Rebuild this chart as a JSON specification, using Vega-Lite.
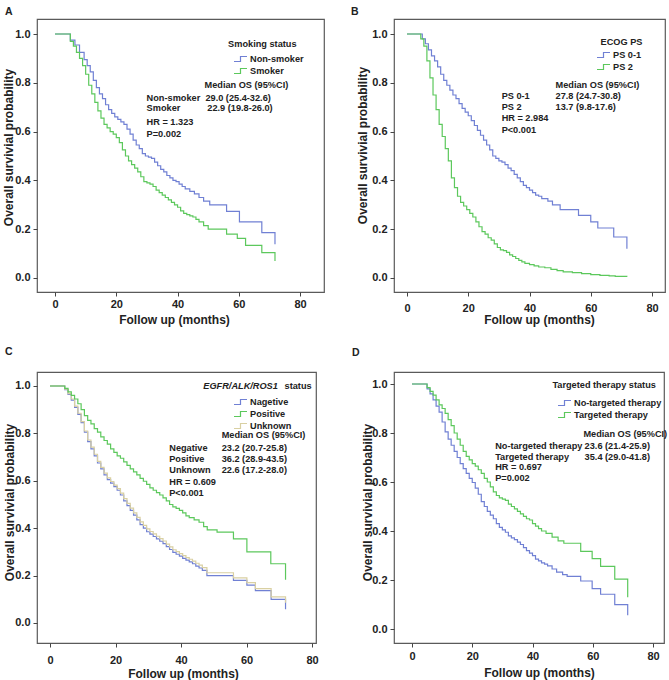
{
  "$schema": "https://vega.github.io/schema/vega-lite/v6.json",
  "padding": {"left": 1, "top": 5, "right": 2, "bottom": 2},
  "background": "white",
  "config": {
    "font": "Liberation Sans",
    "view": {"stroke": "#5a5a5a", "strokeWidth": 1.2},
    "axis": {"domain": false, "grid": false, "labelFont": "Liberation Sans", "labelFontWeight": "bold", "labelFontSize": 11, "labelColor": "#222", "titleFont": "Liberation Sans", "titleFontSize": 12, "titleFontWeight": "bold", "titleColor": "#222", "tickColor": "#444", "tickSize": 4, "labelPadding": 3},
    "legend": {"orient": "none", "labelFont": "Liberation Sans", "labelFontWeight": "bold", "labelFontSize": 9.2, "labelColor": "#222", "symbolType": "M-1.3,0.5H0V-0.5H1.3", "symbolSize": 100, "symbolStrokeWidth": 1.2, "symbolFillColor": "transparent", "labelOffset": 3.5, "rowPadding": 0, "padding": 0, "labelLimit": 200},
    "title": {"anchor": "start", "frame": "group", "fontSize": 10.5, "fontWeight": "bold", "font": "Liberation Sans", "color": "#222", "baseline": "alphabetic"},
    "text": {"font": "Liberation Sans", "fontWeight": "bold", "fontSize": 9.2, "color": "#222", "align": "left", "baseline": "middle"},
    "line": {"strokeWidth": 1.2, "interpolate": "step-after"}
  },
  "datasets": {
    "a": [
      {"group": "Non-smoker", "t": 0, "s": 1}, {"group": "Non-smoker", "t": 3.5, "s": 1}, {"group": "Non-smoker", "t": 5, "s": 0.975}, {"group": "Non-smoker", "t": 6.5, "s": 0.955}, {"group": "Non-smoker", "t": 8, "s": 0.925}, {"group": "Non-smoker", "t": 9.5, "s": 0.895}, {"group": "Non-smoker", "t": 10.5, "s": 0.87}, {"group": "Non-smoker", "t": 11.5, "s": 0.845}, {"group": "Non-smoker", "t": 12.5, "s": 0.81}, {"group": "Non-smoker", "t": 13.5, "s": 0.78}, {"group": "Non-smoker", "t": 14.5, "s": 0.755}, {"group": "Non-smoker", "t": 15.5, "s": 0.735}, {"group": "Non-smoker", "t": 16.5, "s": 0.71}, {"group": "Non-smoker", "t": 17.5, "s": 0.69}, {"group": "Non-smoker", "t": 18.5, "s": 0.675}, {"group": "Non-smoker", "t": 19.5, "s": 0.66}, {"group": "Non-smoker", "t": 20.5, "s": 0.65}, {"group": "Non-smoker", "t": 21.5, "s": 0.64}, {"group": "Non-smoker", "t": 22.5, "s": 0.63}, {"group": "Non-smoker", "t": 23.5, "s": 0.61}, {"group": "Non-smoker", "t": 24.5, "s": 0.59}, {"group": "Non-smoker", "t": 25.5, "s": 0.565}, {"group": "Non-smoker", "t": 26.5, "s": 0.545}, {"group": "Non-smoker", "t": 27.5, "s": 0.53}, {"group": "Non-smoker", "t": 28.5, "s": 0.51}, {"group": "Non-smoker", "t": 29.5, "s": 0.5}, {"group": "Non-smoker", "t": 30.5, "s": 0.495}, {"group": "Non-smoker", "t": 31.5, "s": 0.49}, {"group": "Non-smoker", "t": 32.5, "s": 0.475}, {"group": "Non-smoker", "t": 33.5, "s": 0.46}, {"group": "Non-smoker", "t": 34.5, "s": 0.445}, {"group": "Non-smoker", "t": 35.5, "s": 0.435}, {"group": "Non-smoker", "t": 36.5, "s": 0.42}, {"group": "Non-smoker", "t": 37.5, "s": 0.41}, {"group": "Non-smoker", "t": 38.5, "s": 0.4}, {"group": "Non-smoker", "t": 39.5, "s": 0.395}, {"group": "Non-smoker", "t": 40.5, "s": 0.385}, {"group": "Non-smoker", "t": 41.5, "s": 0.375}, {"group": "Non-smoker", "t": 42.5, "s": 0.365}, {"group": "Non-smoker", "t": 44, "s": 0.355}, {"group": "Non-smoker", "t": 45.5, "s": 0.345}, {"group": "Non-smoker", "t": 47, "s": 0.33}, {"group": "Non-smoker", "t": 48.5, "s": 0.315}, {"group": "Non-smoker", "t": 50.5, "s": 0.3}, {"group": "Non-smoker", "t": 56, "s": 0.273}, {"group": "Non-smoker", "t": 60.2, "s": 0.23}, {"group": "Non-smoker", "t": 67.5, "s": 0.186}, {"group": "Non-smoker", "t": 71.7, "s": 0.186}, {"group": "Non-smoker", "t": 71.8, "s": 0.138},
      {"group": "Smoker", "t": 0, "s": 1}, {"group": "Smoker", "t": 3.5, "s": 1}, {"group": "Smoker", "t": 5, "s": 0.97}, {"group": "Smoker", "t": 6, "s": 0.95}, {"group": "Smoker", "t": 7, "s": 0.925}, {"group": "Smoker", "t": 8, "s": 0.9}, {"group": "Smoker", "t": 9, "s": 0.87}, {"group": "Smoker", "t": 10, "s": 0.835}, {"group": "Smoker", "t": 11, "s": 0.79}, {"group": "Smoker", "t": 12, "s": 0.755}, {"group": "Smoker", "t": 13, "s": 0.72}, {"group": "Smoker", "t": 14, "s": 0.685}, {"group": "Smoker", "t": 15, "s": 0.655}, {"group": "Smoker", "t": 16, "s": 0.63}, {"group": "Smoker", "t": 17, "s": 0.615}, {"group": "Smoker", "t": 18, "s": 0.6}, {"group": "Smoker", "t": 19, "s": 0.59}, {"group": "Smoker", "t": 20, "s": 0.575}, {"group": "Smoker", "t": 21, "s": 0.555}, {"group": "Smoker", "t": 22, "s": 0.525}, {"group": "Smoker", "t": 23, "s": 0.5}, {"group": "Smoker", "t": 24, "s": 0.48}, {"group": "Smoker", "t": 25, "s": 0.465}, {"group": "Smoker", "t": 26, "s": 0.45}, {"group": "Smoker", "t": 27, "s": 0.435}, {"group": "Smoker", "t": 28, "s": 0.415}, {"group": "Smoker", "t": 29, "s": 0.395}, {"group": "Smoker", "t": 30, "s": 0.39}, {"group": "Smoker", "t": 31, "s": 0.385}, {"group": "Smoker", "t": 32, "s": 0.375}, {"group": "Smoker", "t": 33, "s": 0.36}, {"group": "Smoker", "t": 34, "s": 0.35}, {"group": "Smoker", "t": 35, "s": 0.34}, {"group": "Smoker", "t": 36, "s": 0.33}, {"group": "Smoker", "t": 37, "s": 0.32}, {"group": "Smoker", "t": 38, "s": 0.31}, {"group": "Smoker", "t": 39, "s": 0.3}, {"group": "Smoker", "t": 40, "s": 0.29}, {"group": "Smoker", "t": 41, "s": 0.275}, {"group": "Smoker", "t": 42, "s": 0.265}, {"group": "Smoker", "t": 43, "s": 0.26}, {"group": "Smoker", "t": 44, "s": 0.255}, {"group": "Smoker", "t": 45, "s": 0.25}, {"group": "Smoker", "t": 46, "s": 0.24}, {"group": "Smoker", "t": 47, "s": 0.23}, {"group": "Smoker", "t": 48.5, "s": 0.215}, {"group": "Smoker", "t": 50, "s": 0.2}, {"group": "Smoker", "t": 56, "s": 0.18}, {"group": "Smoker", "t": 59.5, "s": 0.162}, {"group": "Smoker", "t": 62.2, "s": 0.134}, {"group": "Smoker", "t": 67.5, "s": 0.104}, {"group": "Smoker", "t": 71.7, "s": 0.104}, {"group": "Smoker", "t": 71.8, "s": 0.07}
    ],
    "b": [
      {"group": "PS 0-1", "t": 0, "s": 1}, {"group": "PS 0-1", "t": 3.8, "s": 1}, {"group": "PS 0-1", "t": 5, "s": 0.98}, {"group": "PS 0-1", "t": 6, "s": 0.96}, {"group": "PS 0-1", "t": 7, "s": 0.935}, {"group": "PS 0-1", "t": 8, "s": 0.91}, {"group": "PS 0-1", "t": 9, "s": 0.89}, {"group": "PS 0-1", "t": 10, "s": 0.865}, {"group": "PS 0-1", "t": 11, "s": 0.835}, {"group": "PS 0-1", "t": 12, "s": 0.81}, {"group": "PS 0-1", "t": 13, "s": 0.79}, {"group": "PS 0-1", "t": 14, "s": 0.77}, {"group": "PS 0-1", "t": 15, "s": 0.75}, {"group": "PS 0-1", "t": 16, "s": 0.735}, {"group": "PS 0-1", "t": 17, "s": 0.715}, {"group": "PS 0-1", "t": 18, "s": 0.695}, {"group": "PS 0-1", "t": 19, "s": 0.68}, {"group": "PS 0-1", "t": 20, "s": 0.665}, {"group": "PS 0-1", "t": 21, "s": 0.645}, {"group": "PS 0-1", "t": 22, "s": 0.625}, {"group": "PS 0-1", "t": 23, "s": 0.605}, {"group": "PS 0-1", "t": 24, "s": 0.585}, {"group": "PS 0-1", "t": 25, "s": 0.565}, {"group": "PS 0-1", "t": 26, "s": 0.545}, {"group": "PS 0-1", "t": 27, "s": 0.525}, {"group": "PS 0-1", "t": 28, "s": 0.5}, {"group": "PS 0-1", "t": 29, "s": 0.49}, {"group": "PS 0-1", "t": 30, "s": 0.48}, {"group": "PS 0-1", "t": 31, "s": 0.475}, {"group": "PS 0-1", "t": 32, "s": 0.465}, {"group": "PS 0-1", "t": 33, "s": 0.45}, {"group": "PS 0-1", "t": 34, "s": 0.44}, {"group": "PS 0-1", "t": 35, "s": 0.425}, {"group": "PS 0-1", "t": 36, "s": 0.41}, {"group": "PS 0-1", "t": 37, "s": 0.395}, {"group": "PS 0-1", "t": 38, "s": 0.38}, {"group": "PS 0-1", "t": 39, "s": 0.37}, {"group": "PS 0-1", "t": 40, "s": 0.36}, {"group": "PS 0-1", "t": 41, "s": 0.35}, {"group": "PS 0-1", "t": 42, "s": 0.34}, {"group": "PS 0-1", "t": 43, "s": 0.335}, {"group": "PS 0-1", "t": 44, "s": 0.325}, {"group": "PS 0-1", "t": 46, "s": 0.315}, {"group": "PS 0-1", "t": 47.5, "s": 0.3}, {"group": "PS 0-1", "t": 50, "s": 0.28}, {"group": "PS 0-1", "t": 56, "s": 0.257}, {"group": "PS 0-1", "t": 60, "s": 0.23}, {"group": "PS 0-1", "t": 62.3, "s": 0.205}, {"group": "PS 0-1", "t": 67.5, "s": 0.168}, {"group": "PS 0-1", "t": 71.7, "s": 0.168}, {"group": "PS 0-1", "t": 71.8, "s": 0.12},
      {"group": "PS 2", "t": 0, "s": 1}, {"group": "PS 2", "t": 3.8, "s": 1}, {"group": "PS 2", "t": 4.5, "s": 0.98}, {"group": "PS 2", "t": 5.5, "s": 0.95}, {"group": "PS 2", "t": 6.5, "s": 0.89}, {"group": "PS 2", "t": 7.5, "s": 0.82}, {"group": "PS 2", "t": 8.5, "s": 0.75}, {"group": "PS 2", "t": 9.5, "s": 0.69}, {"group": "PS 2", "t": 10.5, "s": 0.63}, {"group": "PS 2", "t": 11.5, "s": 0.58}, {"group": "PS 2", "t": 12.5, "s": 0.53}, {"group": "PS 2", "t": 13.5, "s": 0.48}, {"group": "PS 2", "t": 14.5, "s": 0.41}, {"group": "PS 2", "t": 15.5, "s": 0.37}, {"group": "PS 2", "t": 16.5, "s": 0.335}, {"group": "PS 2", "t": 17.5, "s": 0.31}, {"group": "PS 2", "t": 18.5, "s": 0.295}, {"group": "PS 2", "t": 19.5, "s": 0.28}, {"group": "PS 2", "t": 20.5, "s": 0.265}, {"group": "PS 2", "t": 21.5, "s": 0.25}, {"group": "PS 2", "t": 22.5, "s": 0.23}, {"group": "PS 2", "t": 23.5, "s": 0.21}, {"group": "PS 2", "t": 24.5, "s": 0.19}, {"group": "PS 2", "t": 25.5, "s": 0.18}, {"group": "PS 2", "t": 26.5, "s": 0.165}, {"group": "PS 2", "t": 27.5, "s": 0.155}, {"group": "PS 2", "t": 28.5, "s": 0.14}, {"group": "PS 2", "t": 29.5, "s": 0.125}, {"group": "PS 2", "t": 30.5, "s": 0.115}, {"group": "PS 2", "t": 31.5, "s": 0.112}, {"group": "PS 2", "t": 32.5, "s": 0.105}, {"group": "PS 2", "t": 33.5, "s": 0.095}, {"group": "PS 2", "t": 34.5, "s": 0.088}, {"group": "PS 2", "t": 35.5, "s": 0.08}, {"group": "PS 2", "t": 36.5, "s": 0.072}, {"group": "PS 2", "t": 37.5, "s": 0.066}, {"group": "PS 2", "t": 38.5, "s": 0.06}, {"group": "PS 2", "t": 40, "s": 0.055}, {"group": "PS 2", "t": 41.5, "s": 0.05}, {"group": "PS 2", "t": 43, "s": 0.045}, {"group": "PS 2", "t": 45, "s": 0.042}, {"group": "PS 2", "t": 47, "s": 0.035}, {"group": "PS 2", "t": 49, "s": 0.03}, {"group": "PS 2", "t": 51, "s": 0.025}, {"group": "PS 2", "t": 54, "s": 0.022}, {"group": "PS 2", "t": 57, "s": 0.018}, {"group": "PS 2", "t": 60, "s": 0.014}, {"group": "PS 2", "t": 63, "s": 0.011}, {"group": "PS 2", "t": 66, "s": 0.009}, {"group": "PS 2", "t": 68, "s": 0.007}, {"group": "PS 2", "t": 71.8, "s": 0.005}
    ],
    "c": [
      {"group": "Nagetive", "t": 0, "s": 1}, {"group": "Nagetive", "t": 3.5, "s": 1}, {"group": "Nagetive", "t": 4.5, "s": 0.985}, {"group": "Nagetive", "t": 5.5, "s": 0.965}, {"group": "Nagetive", "t": 6.5, "s": 0.94}, {"group": "Nagetive", "t": 7.5, "s": 0.91}, {"group": "Nagetive", "t": 8.5, "s": 0.88}, {"group": "Nagetive", "t": 9.5, "s": 0.845}, {"group": "Nagetive", "t": 10.5, "s": 0.805}, {"group": "Nagetive", "t": 11.5, "s": 0.765}, {"group": "Nagetive", "t": 12.5, "s": 0.735}, {"group": "Nagetive", "t": 13.5, "s": 0.705}, {"group": "Nagetive", "t": 14.5, "s": 0.675}, {"group": "Nagetive", "t": 15.5, "s": 0.65}, {"group": "Nagetive", "t": 16.5, "s": 0.625}, {"group": "Nagetive", "t": 17.5, "s": 0.605}, {"group": "Nagetive", "t": 18.5, "s": 0.59}, {"group": "Nagetive", "t": 19.5, "s": 0.575}, {"group": "Nagetive", "t": 20.5, "s": 0.56}, {"group": "Nagetive", "t": 21.5, "s": 0.54}, {"group": "Nagetive", "t": 22.5, "s": 0.515}, {"group": "Nagetive", "t": 23.5, "s": 0.495}, {"group": "Nagetive", "t": 24.5, "s": 0.475}, {"group": "Nagetive", "t": 25.5, "s": 0.455}, {"group": "Nagetive", "t": 26.5, "s": 0.435}, {"group": "Nagetive", "t": 27.5, "s": 0.415}, {"group": "Nagetive", "t": 28.5, "s": 0.4}, {"group": "Nagetive", "t": 29.5, "s": 0.385}, {"group": "Nagetive", "t": 30.5, "s": 0.375}, {"group": "Nagetive", "t": 31.5, "s": 0.365}, {"group": "Nagetive", "t": 32.5, "s": 0.355}, {"group": "Nagetive", "t": 33.5, "s": 0.345}, {"group": "Nagetive", "t": 34.5, "s": 0.335}, {"group": "Nagetive", "t": 35.5, "s": 0.322}, {"group": "Nagetive", "t": 36.5, "s": 0.31}, {"group": "Nagetive", "t": 37.5, "s": 0.298}, {"group": "Nagetive", "t": 38.5, "s": 0.29}, {"group": "Nagetive", "t": 39.5, "s": 0.282}, {"group": "Nagetive", "t": 40.5, "s": 0.273}, {"group": "Nagetive", "t": 41.5, "s": 0.265}, {"group": "Nagetive", "t": 42.5, "s": 0.258}, {"group": "Nagetive", "t": 43.5, "s": 0.25}, {"group": "Nagetive", "t": 44.5, "s": 0.24}, {"group": "Nagetive", "t": 45.5, "s": 0.232}, {"group": "Nagetive", "t": 46.5, "s": 0.222}, {"group": "Nagetive", "t": 47.9, "s": 0.2}, {"group": "Nagetive", "t": 56, "s": 0.18}, {"group": "Nagetive", "t": 60.1, "s": 0.16}, {"group": "Nagetive", "t": 62.7, "s": 0.137}, {"group": "Nagetive", "t": 67.5, "s": 0.1}, {"group": "Nagetive", "t": 71.8, "s": 0.1}, {"group": "Nagetive", "t": 71.9, "s": 0.058},
      {"group": "Unknown", "t": 0, "s": 1}, {"group": "Unknown", "t": 3.5, "s": 1}, {"group": "Unknown", "t": 4.5, "s": 0.987}, {"group": "Unknown", "t": 5.5, "s": 0.968}, {"group": "Unknown", "t": 6.5, "s": 0.945}, {"group": "Unknown", "t": 7.5, "s": 0.915}, {"group": "Unknown", "t": 8.5, "s": 0.885}, {"group": "Unknown", "t": 9.5, "s": 0.85}, {"group": "Unknown", "t": 10.5, "s": 0.81}, {"group": "Unknown", "t": 11.5, "s": 0.772}, {"group": "Unknown", "t": 12.5, "s": 0.742}, {"group": "Unknown", "t": 13.5, "s": 0.712}, {"group": "Unknown", "t": 14.5, "s": 0.682}, {"group": "Unknown", "t": 15.5, "s": 0.657}, {"group": "Unknown", "t": 16.5, "s": 0.632}, {"group": "Unknown", "t": 17.5, "s": 0.612}, {"group": "Unknown", "t": 18.5, "s": 0.597}, {"group": "Unknown", "t": 19.5, "s": 0.582}, {"group": "Unknown", "t": 20.5, "s": 0.567}, {"group": "Unknown", "t": 21.5, "s": 0.548}, {"group": "Unknown", "t": 22.5, "s": 0.525}, {"group": "Unknown", "t": 23.5, "s": 0.505}, {"group": "Unknown", "t": 24.5, "s": 0.485}, {"group": "Unknown", "t": 25.5, "s": 0.465}, {"group": "Unknown", "t": 26.5, "s": 0.446}, {"group": "Unknown", "t": 27.5, "s": 0.427}, {"group": "Unknown", "t": 28.5, "s": 0.412}, {"group": "Unknown", "t": 29.5, "s": 0.397}, {"group": "Unknown", "t": 30.5, "s": 0.386}, {"group": "Unknown", "t": 31.5, "s": 0.376}, {"group": "Unknown", "t": 32.5, "s": 0.366}, {"group": "Unknown", "t": 33.5, "s": 0.356}, {"group": "Unknown", "t": 34.5, "s": 0.346}, {"group": "Unknown", "t": 35.5, "s": 0.333}, {"group": "Unknown", "t": 36.5, "s": 0.321}, {"group": "Unknown", "t": 37.5, "s": 0.309}, {"group": "Unknown", "t": 38.5, "s": 0.301}, {"group": "Unknown", "t": 39.5, "s": 0.293}, {"group": "Unknown", "t": 40.5, "s": 0.284}, {"group": "Unknown", "t": 41.5, "s": 0.276}, {"group": "Unknown", "t": 42.5, "s": 0.269}, {"group": "Unknown", "t": 43.5, "s": 0.261}, {"group": "Unknown", "t": 44.5, "s": 0.252}, {"group": "Unknown", "t": 45.5, "s": 0.244}, {"group": "Unknown", "t": 46.5, "s": 0.234}, {"group": "Unknown", "t": 47.9, "s": 0.212}, {"group": "Unknown", "t": 56, "s": 0.19}, {"group": "Unknown", "t": 60.1, "s": 0.17}, {"group": "Unknown", "t": 62.7, "s": 0.145}, {"group": "Unknown", "t": 67.5, "s": 0.11}, {"group": "Unknown", "t": 71.8, "s": 0.11}, {"group": "Unknown", "t": 71.9, "s": 0.085},
      {"group": "Positive", "t": 0, "s": 1}, {"group": "Positive", "t": 3.5, "s": 1}, {"group": "Positive", "t": 4.5, "s": 0.99}, {"group": "Positive", "t": 5.5, "s": 0.975}, {"group": "Positive", "t": 6.5, "s": 0.96}, {"group": "Positive", "t": 7.5, "s": 0.945}, {"group": "Positive", "t": 8.5, "s": 0.925}, {"group": "Positive", "t": 9.5, "s": 0.9}, {"group": "Positive", "t": 10.5, "s": 0.875}, {"group": "Positive", "t": 11.5, "s": 0.855}, {"group": "Positive", "t": 12.5, "s": 0.84}, {"group": "Positive", "t": 13.5, "s": 0.82}, {"group": "Positive", "t": 14.5, "s": 0.805}, {"group": "Positive", "t": 15.5, "s": 0.785}, {"group": "Positive", "t": 16.5, "s": 0.77}, {"group": "Positive", "t": 17.5, "s": 0.755}, {"group": "Positive", "t": 18.5, "s": 0.735}, {"group": "Positive", "t": 19.5, "s": 0.72}, {"group": "Positive", "t": 20.5, "s": 0.705}, {"group": "Positive", "t": 21.5, "s": 0.695}, {"group": "Positive", "t": 22.5, "s": 0.68}, {"group": "Positive", "t": 23.5, "s": 0.665}, {"group": "Positive", "t": 24.5, "s": 0.65}, {"group": "Positive", "t": 25.5, "s": 0.638}, {"group": "Positive", "t": 26.5, "s": 0.625}, {"group": "Positive", "t": 27.5, "s": 0.61}, {"group": "Positive", "t": 28.5, "s": 0.598}, {"group": "Positive", "t": 29.5, "s": 0.585}, {"group": "Positive", "t": 30.5, "s": 0.57}, {"group": "Positive", "t": 31.5, "s": 0.56}, {"group": "Positive", "t": 32.5, "s": 0.55}, {"group": "Positive", "t": 33.5, "s": 0.54}, {"group": "Positive", "t": 34.5, "s": 0.528}, {"group": "Positive", "t": 35.5, "s": 0.515}, {"group": "Positive", "t": 36.5, "s": 0.5}, {"group": "Positive", "t": 37.5, "s": 0.49}, {"group": "Positive", "t": 38.5, "s": 0.484}, {"group": "Positive", "t": 39.5, "s": 0.475}, {"group": "Positive", "t": 40.5, "s": 0.465}, {"group": "Positive", "t": 41.5, "s": 0.452}, {"group": "Positive", "t": 42.5, "s": 0.445}, {"group": "Positive", "t": 44, "s": 0.435}, {"group": "Positive", "t": 45.5, "s": 0.425}, {"group": "Positive", "t": 46.9, "s": 0.407}, {"group": "Positive", "t": 48, "s": 0.393}, {"group": "Positive", "t": 51, "s": 0.383}, {"group": "Positive", "t": 56, "s": 0.355}, {"group": "Positive", "t": 60.1, "s": 0.3}, {"group": "Positive", "t": 67.4, "s": 0.25}, {"group": "Positive", "t": 71.8, "s": 0.25}, {"group": "Positive", "t": 71.9, "s": 0.182}
    ],
    "d": [
      {"group": "No-targeted therapy", "t": 0, "s": 1}, {"group": "No-targeted therapy", "t": 3.9, "s": 1}, {"group": "No-targeted therapy", "t": 5, "s": 0.98}, {"group": "No-targeted therapy", "t": 6, "s": 0.96}, {"group": "No-targeted therapy", "t": 7, "s": 0.935}, {"group": "No-targeted therapy", "t": 8, "s": 0.91}, {"group": "No-targeted therapy", "t": 9, "s": 0.885}, {"group": "No-targeted therapy", "t": 10, "s": 0.845}, {"group": "No-targeted therapy", "t": 11, "s": 0.805}, {"group": "No-targeted therapy", "t": 12, "s": 0.775}, {"group": "No-targeted therapy", "t": 13, "s": 0.75}, {"group": "No-targeted therapy", "t": 14, "s": 0.725}, {"group": "No-targeted therapy", "t": 15, "s": 0.7}, {"group": "No-targeted therapy", "t": 16, "s": 0.675}, {"group": "No-targeted therapy", "t": 17, "s": 0.655}, {"group": "No-targeted therapy", "t": 18, "s": 0.635}, {"group": "No-targeted therapy", "t": 19, "s": 0.615}, {"group": "No-targeted therapy", "t": 20, "s": 0.598}, {"group": "No-targeted therapy", "t": 21, "s": 0.575}, {"group": "No-targeted therapy", "t": 22, "s": 0.55}, {"group": "No-targeted therapy", "t": 23, "s": 0.52}, {"group": "No-targeted therapy", "t": 24, "s": 0.5}, {"group": "No-targeted therapy", "t": 25, "s": 0.48}, {"group": "No-targeted therapy", "t": 26, "s": 0.465}, {"group": "No-targeted therapy", "t": 27, "s": 0.45}, {"group": "No-targeted therapy", "t": 28, "s": 0.43}, {"group": "No-targeted therapy", "t": 29, "s": 0.415}, {"group": "No-targeted therapy", "t": 30, "s": 0.405}, {"group": "No-targeted therapy", "t": 31, "s": 0.395}, {"group": "No-targeted therapy", "t": 32, "s": 0.38}, {"group": "No-targeted therapy", "t": 33, "s": 0.372}, {"group": "No-targeted therapy", "t": 34, "s": 0.365}, {"group": "No-targeted therapy", "t": 35, "s": 0.355}, {"group": "No-targeted therapy", "t": 36, "s": 0.345}, {"group": "No-targeted therapy", "t": 37, "s": 0.332}, {"group": "No-targeted therapy", "t": 38, "s": 0.32}, {"group": "No-targeted therapy", "t": 39, "s": 0.31}, {"group": "No-targeted therapy", "t": 40, "s": 0.3}, {"group": "No-targeted therapy", "t": 41, "s": 0.285}, {"group": "No-targeted therapy", "t": 42, "s": 0.278}, {"group": "No-targeted therapy", "t": 43, "s": 0.27}, {"group": "No-targeted therapy", "t": 44, "s": 0.265}, {"group": "No-targeted therapy", "t": 45, "s": 0.258}, {"group": "No-targeted therapy", "t": 46.5, "s": 0.245}, {"group": "No-targeted therapy", "t": 48, "s": 0.232}, {"group": "No-targeted therapy", "t": 50, "s": 0.222}, {"group": "No-targeted therapy", "t": 51.5, "s": 0.215}, {"group": "No-targeted therapy", "t": 56, "s": 0.196}, {"group": "No-targeted therapy", "t": 59.8, "s": 0.165}, {"group": "No-targeted therapy", "t": 62.6, "s": 0.142}, {"group": "No-targeted therapy", "t": 67.3, "s": 0.1}, {"group": "No-targeted therapy", "t": 71.5, "s": 0.1}, {"group": "No-targeted therapy", "t": 71.6, "s": 0.056},
      {"group": "Targeted therapy", "t": 0, "s": 1}, {"group": "Targeted therapy", "t": 3.9, "s": 1}, {"group": "Targeted therapy", "t": 5, "s": 0.985}, {"group": "Targeted therapy", "t": 6, "s": 0.97}, {"group": "Targeted therapy", "t": 7, "s": 0.955}, {"group": "Targeted therapy", "t": 8, "s": 0.935}, {"group": "Targeted therapy", "t": 9, "s": 0.915}, {"group": "Targeted therapy", "t": 10, "s": 0.9}, {"group": "Targeted therapy", "t": 11, "s": 0.88}, {"group": "Targeted therapy", "t": 12, "s": 0.855}, {"group": "Targeted therapy", "t": 13, "s": 0.83}, {"group": "Targeted therapy", "t": 14, "s": 0.8}, {"group": "Targeted therapy", "t": 15, "s": 0.775}, {"group": "Targeted therapy", "t": 16, "s": 0.75}, {"group": "Targeted therapy", "t": 17, "s": 0.725}, {"group": "Targeted therapy", "t": 18, "s": 0.705}, {"group": "Targeted therapy", "t": 19, "s": 0.69}, {"group": "Targeted therapy", "t": 20, "s": 0.675}, {"group": "Targeted therapy", "t": 21, "s": 0.665}, {"group": "Targeted therapy", "t": 22, "s": 0.65}, {"group": "Targeted therapy", "t": 23, "s": 0.635}, {"group": "Targeted therapy", "t": 24, "s": 0.615}, {"group": "Targeted therapy", "t": 25, "s": 0.6}, {"group": "Targeted therapy", "t": 26, "s": 0.58}, {"group": "Targeted therapy", "t": 27, "s": 0.56}, {"group": "Targeted therapy", "t": 28, "s": 0.545}, {"group": "Targeted therapy", "t": 29, "s": 0.535}, {"group": "Targeted therapy", "t": 30, "s": 0.53}, {"group": "Targeted therapy", "t": 31, "s": 0.525}, {"group": "Targeted therapy", "t": 32, "s": 0.51}, {"group": "Targeted therapy", "t": 33, "s": 0.5}, {"group": "Targeted therapy", "t": 34, "s": 0.49}, {"group": "Targeted therapy", "t": 35, "s": 0.48}, {"group": "Targeted therapy", "t": 36, "s": 0.47}, {"group": "Targeted therapy", "t": 37, "s": 0.46}, {"group": "Targeted therapy", "t": 38, "s": 0.45}, {"group": "Targeted therapy", "t": 39, "s": 0.445}, {"group": "Targeted therapy", "t": 40, "s": 0.43}, {"group": "Targeted therapy", "t": 41, "s": 0.42}, {"group": "Targeted therapy", "t": 42, "s": 0.41}, {"group": "Targeted therapy", "t": 43, "s": 0.4}, {"group": "Targeted therapy", "t": 44.5, "s": 0.39}, {"group": "Targeted therapy", "t": 46.5, "s": 0.375}, {"group": "Targeted therapy", "t": 48.5, "s": 0.36}, {"group": "Targeted therapy", "t": 50.4, "s": 0.35}, {"group": "Targeted therapy", "t": 56, "s": 0.317}, {"group": "Targeted therapy", "t": 59.8, "s": 0.287}, {"group": "Targeted therapy", "t": 62.6, "s": 0.256}, {"group": "Targeted therapy", "t": 67.3, "s": 0.204}, {"group": "Targeted therapy", "t": 71.5, "s": 0.204}, {"group": "Targeted therapy", "t": 71.6, "s": 0.13}
    ]
  },
  "columns": 2,
  "bounds": "flush",
  "align": "all",
  "spacing": {"row": 80, "column": 70},
  "resolve": {"scale": {"x": "independent", "y": "independent", "color": "independent"}, "legend": {"color": "independent"}, "axis": {"x": "independent", "y": "independent"}},
  "concat": [
    {
      "width": 287, "height": 273,
      "title": {"text": "A", "dx": -32, "offset": 2},
      "layer": [
        {"data": {"name": "a"}, "mark": {"type": "line"}, "encoding": {
          "x": {"field": "t", "type": "quantitative", "scale": {"domain": [-5.88, 87.8], "nice": false, "zero": false}, "axis": {"values": [0, 20, 40, 60, 80], "title": "Follow up (months)", "labelPadding": 2, "titleX": 137, "titleY": 27, "titleBaseline": "middle", "titleAlign": "center"}},
          "y": {"field": "s", "type": "quantitative", "scale": {"domain": [-0.0574, 1.0615], "nice": false, "zero": false}, "axis": {"values": [0, 0.2, 0.4, 0.6, 0.8, 1], "format": ".1f", "title": "Overall survivial probability", "titleX": -29, "titleY": 128, "titleBaseline": "middle", "titleAlign": "center"}},
          "color": {"field": "group", "type": "nominal", "scale": {"domain": ["Non-smoker", "Smoker"], "range": ["#7080d4", "#5cc85c"]}, "legend": {"title": null, "legendX": 197.5, "legendY": 34}}
        }},
        {"data": {"values": [{}]}, "mark": {"type": "text"}, "encoding": {"x": {"datum": 56.5}, "y": {"datum": 0.959}, "text": {"value": "Smoking status"}}},
        {"data": {"values": [{}]}, "mark": {"type": "text"}, "encoding": {"x": {"datum": 48.8}, "y": {"datum": 0.791}, "text": {"value": "Median OS (95%CI)"}}},
        {"data": {"values": [{}]}, "mark": {"type": "text"}, "encoding": {"x": {"datum": 29.9}, "y": {"datum": 0.738}, "text": {"value": "Non-smoker"}}},
        {"data": {"values": [{}]}, "mark": {"type": "text"}, "encoding": {"x": {"datum": 49.1}, "y": {"datum": 0.738}, "text": {"value": "29.0 (25.4-32.6)"}}},
        {"data": {"values": [{}]}, "mark": {"type": "text"}, "encoding": {"x": {"datum": 29.9}, "y": {"datum": 0.695}, "text": {"value": "Smoker"}}},
        {"data": {"values": [{}]}, "mark": {"type": "text"}, "encoding": {"x": {"datum": 49.7}, "y": {"datum": 0.695}, "text": {"value": "22.9 (19.8-26.0)"}}},
        {"data": {"values": [{}]}, "mark": {"type": "text"}, "encoding": {"x": {"datum": 29.9}, "y": {"datum": 0.639}, "text": {"value": "HR = 1.323"}}},
        {"data": {"values": [{}]}, "mark": {"type": "text"}, "encoding": {"x": {"datum": 29.9}, "y": {"datum": 0.59}, "text": {"value": "P=0.002"}}}
      ]
    },
    {
      "width": 271, "height": 273,
      "title": {"text": "B", "dx": -43, "offset": 2},
      "layer": [
        {"data": {"name": "b"}, "mark": {"type": "line"}, "encoding": {
          "x": {"field": "t", "type": "quantitative", "scale": {"domain": [-4.24, 84.24], "nice": false, "zero": false}, "axis": {"values": [0, 20, 40, 60, 80], "title": "Follow up (months)", "labelPadding": 6, "titleX": 145, "titleY": 27, "titleBaseline": "middle", "titleAlign": "center"}},
          "y": {"field": "s", "type": "quantitative", "scale": {"domain": [-0.0574, 1.0615], "nice": false, "zero": false}, "axis": {"values": [0, 0.2, 0.4, 0.6, 0.8, 1], "format": ".1f", "title": "Overall survivial probability", "titleX": -32, "titleY": 126, "titleBaseline": "middle", "titleAlign": "center"}},
          "color": {"field": "group", "type": "nominal", "scale": {"domain": ["PS 0-1", "PS 2"], "range": ["#7080d4", "#5cc85c"]}, "legend": {"title": null, "legendX": 203.5, "legendY": 30}}
        }},
        {"data": {"values": [{}]}, "mark": {"type": "text"}, "encoding": {"x": {"datum": 63.2}, "y": {"datum": 0.966}, "text": {"value": "ECOG PS"}}},
        {"data": {"values": [{}]}, "mark": {"type": "text"}, "encoding": {"x": {"datum": 48.5}, "y": {"datum": 0.791}, "text": {"value": "Median OS (95%CI)"}}},
        {"data": {"values": [{}]}, "mark": {"type": "text"}, "encoding": {"x": {"datum": 30.9}, "y": {"datum": 0.746}, "text": {"value": "PS 0-1"}}},
        {"data": {"values": [{}]}, "mark": {"type": "text"}, "encoding": {"x": {"datum": 48.5}, "y": {"datum": 0.746}, "text": {"value": "27.8 (24.7-30.8)"}}},
        {"data": {"values": [{}]}, "mark": {"type": "text"}, "encoding": {"x": {"datum": 30.9}, "y": {"datum": 0.7}, "text": {"value": "PS 2"}}},
        {"data": {"values": [{}]}, "mark": {"type": "text"}, "encoding": {"x": {"datum": 48.5}, "y": {"datum": 0.7}, "text": {"value": "13.7 (9.8-17.6)"}}},
        {"data": {"values": [{}]}, "mark": {"type": "text"}, "encoding": {"x": {"datum": 30.9}, "y": {"datum": 0.654}, "text": {"value": "HR = 2.984"}}},
        {"data": {"values": [{}]}, "mark": {"type": "text"}, "encoding": {"x": {"datum": 30.9}, "y": {"datum": 0.608}, "text": {"value": "P<0.001"}}}
      ]
    },
    {
      "width": 279, "height": 271,
      "title": {"text": "C", "dx": -32, "offset": 15},
      "layer": [
        {"data": {"name": "c"}, "mark": {"type": "line"}, "encoding": {
          "x": {"field": "t", "type": "quantitative", "scale": {"domain": [-3.97, 81.2], "nice": false, "zero": false}, "axis": {"values": [0, 20, 40, 60, 80], "title": "Follow up (months)", "labelPadding": 7, "titleX": 146, "titleY": 30, "titleBaseline": "middle", "titleAlign": "center"}},
          "y": {"field": "s", "type": "quantitative", "scale": {"domain": [-0.0844, 1.059], "nice": false, "zero": false}, "axis": {"values": [0, 0.2, 0.4, 0.6, 0.8, 1], "format": ".1f", "title": "Overall survivial probability", "titleX": -28, "titleY": 130, "titleBaseline": "middle", "titleAlign": "center"}},
          "color": {"field": "group", "type": "nominal", "scale": {"domain": ["Nagetive", "Positive", "Unknown"], "range": ["#7080d4", "#5cc85c", "#d9d0a2"]}, "legend": {"title": null, "legendX": 197.5, "legendY": 24}}
        }},
        {"data": {"values": [{}]}, "mark": {"type": "text", "fontStyle": "italic"}, "encoding": {"x": {"datum": 46.8}, "y": {"datum": 1.001}, "text": {"value": "EGFR/ALK/ROS1"}}},
        {"data": {"values": [{}]}, "mark": {"type": "text"}, "encoding": {"x": {"datum": 71.6}, "y": {"datum": 1.001}, "text": {"value": "status"}}},
        {"data": {"values": [{}]}, "mark": {"type": "text"}, "encoding": {"x": {"datum": 52.4}, "y": {"datum": 0.793}, "text": {"value": "Median OS (95%CI)"}}},
        {"data": {"values": [{}]}, "mark": {"type": "text"}, "encoding": {"x": {"datum": 36.4}, "y": {"datum": 0.737}, "text": {"value": "Negative"}}},
        {"data": {"values": [{}]}, "mark": {"type": "text"}, "encoding": {"x": {"datum": 52.4}, "y": {"datum": 0.737}, "text": {"value": "23.2 (20.7-25.8)"}}},
        {"data": {"values": [{}]}, "mark": {"type": "text"}, "encoding": {"x": {"datum": 36.4}, "y": {"datum": 0.692}, "text": {"value": "Positive"}}},
        {"data": {"values": [{}]}, "mark": {"type": "text"}, "encoding": {"x": {"datum": 52.4}, "y": {"datum": 0.692}, "text": {"value": "36.2 (28.9-43.5)"}}},
        {"data": {"values": [{}]}, "mark": {"type": "text"}, "encoding": {"x": {"datum": 36.4}, "y": {"datum": 0.647}, "text": {"value": "Unknown"}}},
        {"data": {"values": [{}]}, "mark": {"type": "text"}, "encoding": {"x": {"datum": 52.4}, "y": {"datum": 0.647}, "text": {"value": "22.6 (17.2-28.0)"}}},
        {"data": {"values": [{}]}, "mark": {"type": "text"}, "encoding": {"x": {"datum": 36.4}, "y": {"datum": 0.594}, "text": {"value": "HR = 0.609"}}},
        {"data": {"values": [{}]}, "mark": {"type": "text"}, "encoding": {"x": {"datum": 36.4}, "y": {"datum": 0.547}, "text": {"value": "P<0.001"}}}
      ]
    },
    {
      "width": 270, "height": 271,
      "title": {"text": "D", "dx": -42, "offset": 14},
      "layer": [
        {"data": {"name": "d"}, "mark": {"type": "line"}, "encoding": {
          "x": {"field": "t", "type": "quantitative", "scale": {"domain": [-5.975, 83.65], "nice": false, "zero": false}, "axis": {"values": [0, 20, 40, 60, 80], "title": "Follow up (months)", "labelPadding": 3, "titleX": 145, "titleY": 29, "titleBaseline": "middle", "titleAlign": "center"}},
          "y": {"field": "s", "type": "quantitative", "scale": {"domain": [-0.057, 1.049], "nice": false, "zero": false}, "axis": {"values": [0, 0.2, 0.4, 0.6, 0.8, 1], "format": ".1f", "title": "Overall survivial probability", "titleX": -27, "titleY": 130, "titleBaseline": "middle", "titleAlign": "center"}},
          "color": {"field": "group", "type": "nominal", "scale": {"domain": ["No-targeted therapy", "Targeted therapy"], "range": ["#7080d4", "#5cc85c"]}, "legend": {"title": null, "legendX": 164.5, "legendY": 25}}
        }},
        {"data": {"values": [{}]}, "mark": {"type": "text"}, "encoding": {"x": {"datum": 46.6}, "y": {"datum": 0.996}, "text": {"value": "Targeted therapy status"}}},
        {"data": {"values": [{}]}, "mark": {"type": "text"}, "encoding": {"x": {"datum": 56.9}, "y": {"datum": 0.796}, "text": {"value": "Median OS (95%CI)"}}},
        {"data": {"values": [{}]}, "mark": {"type": "text"}, "encoding": {"x": {"datum": 27.6}, "y": {"datum": 0.747}, "text": {"value": "No-targeted therapy"}}},
        {"data": {"values": [{}]}, "mark": {"type": "text"}, "encoding": {"x": {"datum": 57.3}, "y": {"datum": 0.747}, "text": {"value": "23.6 (21.4-25.9)"}}},
        {"data": {"values": [{}]}, "mark": {"type": "text"}, "encoding": {"x": {"datum": 27.6}, "y": {"datum": 0.703}, "text": {"value": "Targeted therapy"}}},
        {"data": {"values": [{}]}, "mark": {"type": "text"}, "encoding": {"x": {"datum": 57.3}, "y": {"datum": 0.703}, "text": {"value": "35.4 (29.0-41.8)"}}},
        {"data": {"values": [{}]}, "mark": {"type": "text"}, "encoding": {"x": {"datum": 27.6}, "y": {"datum": 0.66}, "text": {"value": "HR = 0.697"}}},
        {"data": {"values": [{}]}, "mark": {"type": "text"}, "encoding": {"x": {"datum": 27.6}, "y": {"datum": 0.615}, "text": {"value": "P=0.002"}}}
      ]
    }
  ]
}
